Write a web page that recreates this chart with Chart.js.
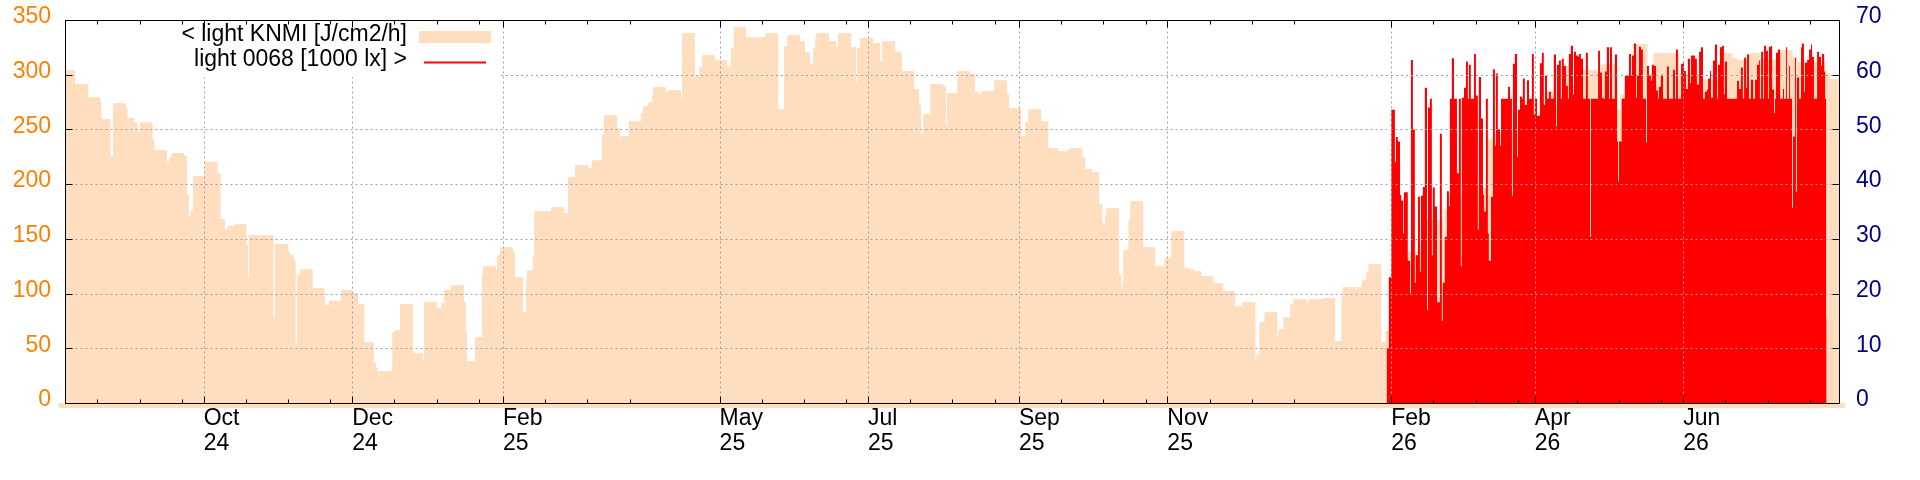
<!DOCTYPE html>
<html>
<head>
<meta charset="utf-8">
<title>light</title>
<script src="https://cdn.jsdelivr.net/npm/chart.js@4.4.1/dist/chart.umd.min.js"></script>
<style>
    html, body { margin: 0; padding: 0; background: #fff; }
    #wrap { width: 1920px; height: 480px; }
</style>
</head>
<body>
<div id="wrap"><canvas id="lightChart" width="1920" height="480"></canvas></div>
<script>
// x values are days counted from 2024-08-05
const tickDays = [57, 118, 180, 269, 330, 392, 453, 545, 604, 665];
const tickMonths = ['Oct', 'Dec', 'Feb', 'May', 'Jul', 'Sep', 'Nov', 'Feb', 'Apr', 'Jun'];
const tickYears = ['24', '24', '25', '25', '25', '25', '25', '26', '26', '26'];

// KNMI light, J/cm2/h (left axis) - each value holds until the next day
const peachDays = [
    -2.7, -2.3, -0.3, 3.9, 9.4, 14.4, 14.8, 18.5, 19.9, 24.8,
    25.5, 28.3, 29.6, 31.0, 35.8, 36.6, 41.7, 42.9, 43.9, 48.7,
    49.9, 50.7, 51.8, 52.8, 57.6, 62.5, 63.7, 65.5, 66.8, 69.6,
    74.4, 75.0, 75.8, 85.5, 86.4, 91.6, 92.4, 93.8, 94.6, 95.5,
    96.8, 101.6, 106.5, 108.7, 113.6, 117.9, 120.3, 122.8, 126.8, 127.6,
    128.3, 134.7, 135.4, 137.9, 142.8, 146.9, 147.7, 152.7, 154.7, 156.0,
    158.8, 163.8, 164.6, 165.0, 168.7, 171.6, 172.0, 176.9, 177.8, 179.0,
    183.9, 184.7, 188.0, 189.7, 190.1, 192.4, 193.0, 199.9, 204.9, 206.9,
    209.8, 214.8, 216.8, 220.9, 221.7, 226.7, 227.9, 228.7, 231.9, 236.9,
    237.8, 239.8, 241.5, 241.9, 246.8, 248.0, 253.0, 253.8, 258.7, 260.8,
    262.0, 267.0, 271.9, 273.8, 275.0, 279.7, 283.8, 284.2, 287.9, 292.9,
    295.7, 297.0, 301.9, 303.9, 306.0, 307.7, 308.5, 308.9, 313.8, 316.7,
    317.9, 322.9, 324.9, 325.7, 327.0, 331.8, 334.8, 335.6, 336.0, 341.0,
    343.7, 348.8, 350.8, 351.6, 352.9, 355.8, 360.7, 361.9, 362.7, 366.9,
    371.8, 373.8, 375.1, 376.7, 382.1, 387.0, 387.8, 392.6, 394.8, 396.0,
    401.0, 403.9, 408.0, 412.1, 412.9, 417.8, 419.1, 421.9, 424.8, 426.1,
    427.7, 428.1, 433.0, 433.9, 434.7, 435.1, 437.2, 438.0, 442.9, 447.8,
    452.0, 454.8, 459.8, 461.8, 463.9, 466.8, 471.7, 475.8, 480.7, 484.0,
    489.0, 489.8, 491.0, 493.1, 498.0, 498.8, 500.9, 503.7, 505.0, 510.0,
    511.1, 516.9, 521.8, 524.7, 525.1, 530.1, 530.9, 533.0, 535.0, 535.8,
    540.7, 542.8, 545.0, 549.0, 551.8, 556.0, 559.7, 566.2, 567.0, 568.7,
    575.0, 581.9, 584.7, 586.8, 592.0, 597.0, 604.0, 609.0, 611.8, 616.8,
    618.0, 623.8, 630.0, 631.2, 637.0, 637.8, 639.4, 641.0, 645.6, 650.1,
    653.0, 663.0, 672.0, 681.5, 685.0, 687.1, 691.2, 696.1, 704.8, 709.7,
    711.7, 723.3, 725.3, 729.7, 731.1, 731.5
];
const peachValues = [
    7, 298, 303.7, 290.9, 279, 274, 259, 226, 273.5, 270,
    260, 256, 247.6, 256, 240, 230.6, 220, 224, 228, 225.7,
    190, 169.7, 176.4, 206.8, 220, 209.6, 167.5, 158.7, 161.4, 163,
    144, 114, 153, 76.8, 145, 137.4, 134.6, 129.8, 53.3, 116.4,
    121.8, 104.5, 89, 93, 102.7, 100.2, 90.2, 55.1, 36.6, 32,
    28.6, 64.6, 66, 89.9, 45, 39, 92, 86.5, 90.8, 102.7,
    107.2, 91.7, 65.2, 37.8, 59.7, 117.9, 124.6, 121.2, 134.6, 141.9,
    137.4, 114.5, 82.9, 111.8, 120.9, 134.6, 174.8, 178.5, 173, 205.9,
    216.9, 214.1, 221.4, 245.2, 262.6, 250.7, 242.5, 243.4, 257, 264.4,
    270.8, 274.4, 280.8, 288.2, 283.6, 285.4, 277.2, 337.5, 298.5, 306.4,
    317.4, 312.8, 306.4, 323.8, 343, 333.8, 332.3, 333.8, 337.5, 268,
    325.6, 335.7, 330.2, 320.1, 309.2, 324.7, 333, 337.5, 330.2, 324.7,
    337.5, 324.7, 292.7, 323.8, 333, 328.4, 311.9, 295.5, 330.2, 320.1,
    302.8, 286.3, 272, 245.2, 263.5, 290.9, 289, 253.4, 282.7, 302.8,
    300, 283.6, 281.7, 284.5, 294.5, 281.7, 269, 243.4, 256.2, 268,
    257, 232.4, 229.7, 230.6, 232.4, 224.2, 213.2, 210.5, 181.2, 163.9,
    171.2, 177.6, 116.7, 103.6, 110.9, 139.2, 166.6, 184, 142, 124.6,
    131.9, 156.6, 122.8, 121.8, 120, 115.4, 109, 101.7, 88, 91.7,
    38.7, 44.2, 73.4, 82.5, 60.6, 67, 78, 89.9, 94.4, 91.1,
    94.4, 95.3, 56, 96.3, 105.4, 102.7, 105.4, 111.8, 119.1, 126.4,
    55.1, 65.2, 120, 130, 137.7, 145, 166.6, 115, 176.7, 190,
    200, 196, 240.6, 245, 250, 248, 244.6, 284.2, 270, 307.6,
    290, 303.7, 290, 309.2, 290, 267, 281.8, 290, 327.5, 300,
    319.2, 300, 295, 319.2, 314.6, 312.8, 319.2, 313.7, 322, 315.6,
    311, 301, 295.5, 284.5, 20, 0
];

// sensor 0068, 1000 lx (right axis)
const redDays = [
    543.1, 544.0, 545.0, 546.5, 546.9, 547.7, 548.6, 549.1, 549.9, 550.2,
    551.8, 552.7, 553.1, 553.9, 554.7, 555.1, 556.0, 556.8, 557.2, 558.0,
    558.8, 559.7, 560.1, 560.9, 561.7, 562.1, 562.9, 563.8, 565.0, 565.8,
    566.2, 567.0, 567.9, 568.7, 569.1, 569.9, 570.8, 572.0, 572.8, 573.6,
    574.0, 574.9, 575.7, 576.5, 576.9, 577.7, 579.0, 579.8, 580.6, 581.0,
    581.9, 582.7, 583.1, 583.9, 584.7, 585.1, 586.0, 586.8, 587.6, 588.0,
    588.8, 589.7, 590.1, 593.0, 593.8, 594.6, 595.0, 595.8, 596.7, 597.1,
    597.9, 598.7, 599.1, 599.9, 600.8, 601.6, 602.8, 603.6, 604.0, 604.9,
    606.1, 606.9, 607.7, 608.2, 609.0, 609.8, 610.6, 611.8, 612.7, 613.1,
    613.9, 614.7, 615.1, 615.9, 616.8, 617.6, 618.0, 618.8, 619.7, 620.1,
    620.9, 621.7, 622.1, 622.9, 623.8, 625.0, 625.8, 626.7, 627.1, 630.0,
    630.8, 631.6, 632.0, 632.8, 633.6, 634.5, 634.9, 635.7, 636.9, 637.8,
    638.2, 638.6, 639.7, 641.0, 642.7, 643.5, 643.9, 644.7, 645.6, 646.0,
    646.8, 647.6, 648.4, 649.7, 650.1, 650.9, 651.7, 652.1, 652.9, 653.8,
    654.6, 655.0, 655.8, 656.7, 658.3, 659.1, 660.8, 661.6, 662.0, 662.8,
    664.1, 664.9, 665.3, 666.1, 666.9, 667.8, 668.2, 669.8, 670.6, 671.5,
    672.3, 673.1, 673.9, 674.7, 675.2, 676.0, 676.4, 677.2, 678.0, 678.9,
    679.3, 680.1, 680.9, 681.7, 682.1, 683.0, 687.1, 687.9, 688.7, 689.5,
    690.0, 690.8, 691.2, 692.0, 692.8, 693.7, 694.5, 695.3, 696.1, 696.5,
    697.0, 697.8, 698.2, 699.0, 699.8, 700.2, 701.1, 701.5, 702.3, 702.7,
    703.1, 703.9, 704.8, 706.0, 706.4, 707.2, 707.6, 708.5, 708.9, 709.7,
    710.1, 710.9, 711.3, 711.7, 712.6, 713.4, 713.8, 714.6, 715.0, 715.9,
    716.7, 717.5, 717.9, 718.7, 720.0, 720.8, 721.6, 722.0, 722.9, 723.3,
    723.7, 723.9
];
const redValues = [
    10, 23, 53.6, 44, 48.6, 47.8, 38, 37, 31, 38.5,
    26, 20, 62.7, 50, 22, 27, 37.7, 24, 37.9, 39.5,
    57.6, 17, 54, 55.6, 27, 39.4, 35.9, 18.4, 49.2, 15,
    22, 30.4, 38.7, 36, 55.6, 63, 55.6, 42, 55.6, 25,
    55.8, 57.6, 62.4, 55.6, 61.8, 55.6, 63.8, 56.2, 31.7, 59.6,
    52, 38, 35, 55.6, 31, 26, 37.7, 61, 47, 60.2,
    50, 47, 55.6, 57.8, 55.6, 37.9, 62, 63.8, 45, 53.6,
    56, 55.6, 59.3, 54.5, 59, 55.6, 63.8, 52.7, 55.6, 52.5,
    62.1, 64, 54.5, 59.8, 55.6, 56.9, 55.6, 63.7, 50.5, 61.8,
    62.6, 55.6, 62.9, 61.6, 58, 55.6, 63.8, 65.3, 56.4, 64.2,
    63.5, 63.3, 63.8, 62.9, 55.6, 64, 55.6, 30.4, 55.6, 64.4,
    60.4, 55.8, 55.6, 60.6, 65, 55.6, 65, 55.6, 63.7, 47.8,
    40.5, 47.8, 55.6, 59.8, 63.8, 59.8, 63.5, 65.7, 55.8, 59.8,
    65.1, 64.6, 55.6, 47.6, 61.6, 59.8, 58.9, 61.8, 61.6, 57.1,
    55.6, 57.8, 60, 55.6, 61.5, 55.6, 60.9, 55.6, 64.6, 55.6,
    62, 62.4, 60.7, 57.4, 62.9, 58.5, 63.5, 62.9, 58.2, 64.2,
    65, 55.6, 56.9, 57.3, 59.3, 60.7, 55.8, 62.6, 65.5, 55.6,
    61.8, 65, 65.3, 56.4, 62.4, 55.6, 58.9, 57.4, 61.3, 55.6,
    63.1, 57.6, 63.7, 55.6, 59.1, 55.6, 59.1, 61.8, 62.6, 55.6,
    64.2, 55.6, 65.3, 64.4, 55.6, 65.1, 65.3, 57.3, 53, 55.6,
    64, 64.6, 55.6, 57.4, 55.6, 65, 55.6, 61.6, 55.6, 35.7,
    48.7, 63.1, 38.6, 59.5, 55.6, 65, 65.7, 56.9, 62.2, 62.7,
    64.6, 65.5, 63.3, 55.6, 64.2, 63.3, 61.6, 63.8, 60.6, 55.6,
    15.8, 0
];

const PEACH = '#ffdec0';
const RED = '#ff0000';
const FONT = '"Liberation Sans", Arial, sans-serif';

// key area in the top left corner: no grid is drawn under it
const KEY_W = 436, KEY_H = 57;

// fixed box sizes so the plot area lands where the original has it
function fixBox(w, h) {
    return scale => {
        if (w !== null) scale.width = w;
        if (h !== null) scale.height = h;
        scale.paddingTop = 0;
        scale.paddingBottom = 0;
        scale.paddingLeft = 0;
        scale.paddingRight = 0;
    };
}

// grid + tics + frame go on top of the data, like gnuplot does here
const frontGrid = {
    id: 'frontGrid',
    beforeDatasetsDraw(chart) {
        const { ctx, chartArea: a, scales: { x } } = chart;
        const x0 = x.getPixelForValue(peachDays[0]);
        const x1 = x.getPixelForValue(peachDays[peachDays.length - 1]);
        ctx.save();
        ctx.fillStyle = PEACH;
        ctx.fillRect(x0, a.bottom, x1 - x0, 5);
        ctx.restore();
    },
    afterDatasetsDraw(chart) {
        const { ctx, chartArea: a, scales: { x, y, y1 } } = chart;
        const keyR = a.left + KEY_W, keyB = a.top + KEY_H;
        const L = Math.round(a.left) + 0.5, R = Math.round(a.right) + 0.5;
        const T = Math.round(a.top) + 0.5, B = Math.round(a.bottom) + 0.5;

        ctx.save();
        ctx.lineWidth = 1;
        ctx.strokeStyle = '#a0a0a0';
        ctx.setLineDash([2, 3]);
        y.ticks.forEach(t => {
            if (t.value <= y.min || t.value >= y.max) return;
            const py = Math.round(y.getPixelForValue(t.value)) + 0.5;
            ctx.beginPath();
            ctx.moveTo(py < keyB ? keyR : L, py);
            ctx.lineTo(R, py);
            ctx.stroke();
        });
        x.ticks.forEach(t => {
            const px = Math.round(x.getPixelForValue(t.value)) + 0.5;
            ctx.beginPath();
            ctx.moveTo(px, B);
            ctx.lineTo(px, px < keyR ? keyB : T);
            ctx.stroke();
        });
        ctx.setLineDash([]);

        // tics pointing inward
        ctx.strokeStyle = '#000';
        ctx.beginPath();
        y.ticks.forEach(t => {
            const py = Math.round(y.getPixelForValue(t.value)) + 0.5;
            ctx.moveTo(L, py); ctx.lineTo(L + 7, py);
        });
        y1.ticks.forEach(t => {
            const py = Math.round(y1.getPixelForValue(t.value)) + 0.5;
            ctx.moveTo(R, py); ctx.lineTo(R - 7, py);
        });
        const majors = [-4].concat(tickDays);
        majors.forEach(m => {
            for (let k = 1; k <= 3; k++) {
                const d = m + k * 17.35;
                if (d <= x.min || d >= x.max) continue;
                const px = Math.round(x.getPixelForValue(d)) + 0.5;
                ctx.moveTo(px, B); ctx.lineTo(px, B - 4);
                ctx.moveTo(px, T); ctx.lineTo(px, T + 4);
            }
        });
        tickDays.forEach(d => {
            const px = Math.round(x.getPixelForValue(d)) + 0.5;
            ctx.moveTo(px, B); ctx.lineTo(px, B - 7);
            ctx.moveTo(px, T); ctx.lineTo(px, T + 7);
        });
        ctx.stroke();
        ctx.strokeRect(L, T, R - L, B - T);
        ctx.restore();
    }
};

const keyText = {
    id: 'keyText',
    afterDraw(chart) {
        const { ctx, chartArea: a } = chart;
        const sets = chart.data.datasets;
        ctx.save();
        ctx.font = '23px ' + FONT;
        ctx.textAlign = 'right';
        ctx.textBaseline = 'alphabetic';
        ctx.fillStyle = '#000';
        ctx.fillText(sets[0].label, a.left + 342, a.top + 20.5);
        ctx.fillText(sets[1].label, a.left + 342, a.top + 45.5);
        ctx.fillStyle = PEACH;
        ctx.fillRect(a.left + 354, a.top + 11, 72, 12);
        ctx.strokeStyle = RED;
        ctx.lineWidth = 2;
        ctx.beginPath();
        ctx.moveTo(a.left + 359, a.top + 42.5);
        ctx.lineTo(a.left + 421, a.top + 42.5);
        ctx.stroke();
        ctx.restore();
    }
};

const tickFont = { family: FONT, size: 23, lineHeight: 1.1 };

new Chart(document.getElementById('lightChart'), {
    type: 'line',
    data: {
        datasets: [{
            label: '< light KNMI [J/cm2/h]',
            data: peachDays.map((d, i) => ({ x: d, y: peachValues[i] })),
            yAxisID: 'y',
            stepped: true,   // value holds from its day until the next one
            fill: 'origin',
            backgroundColor: PEACH,
            borderColor: PEACH,
            borderWidth: 1,
            pointRadius: 0,
            order: 2
        }, {
            label: 'light 0068 [1000 lx] >',
            data: redDays.map((d, i) => ({ x: d, y: redValues[i] })),
            yAxisID: 'y1',
            stepped: true,
            fill: 'origin',
            backgroundColor: RED,
            borderColor: 'rgba(0,0,0,0)',
            borderWidth: 0,
            pointRadius: 0,
            order: 1
        }]
    },
    options: {
        responsive: false,
        animation: false,
        devicePixelRatio: 1,
        layout: { padding: { top: 20, left: 0, right: 0, bottom: 0 } },
        plugins: {
            legend: { display: false },
            tooltip: { enabled: false }
        },
        scales: {
            x: {
                type: 'linear',
                min: 0,
                max: 729,
                afterBuildTicks: scale => {
                    scale.ticks = tickDays.map(v => ({ value: v }));
                },
                afterFit: fixBox(null, 77),
                grid: { display: false, drawTicks: false },
                border: { display: false },
                ticks: {
                    autoSkip: false,
                    maxRotation: 0,
                    minRotation: 0,
                    align: 'start',
                    padding: 3,
                    color: '#000',
                    font: tickFont,
                    callback: value => {
                        const i = tickDays.indexOf(value);
                        return [tickMonths[i], tickYears[i]];
                    }
                }
            },
            y: {
                position: 'left',
                min: 0,
                max: 350,
                afterFit: fixBox(65, null),
                grid: { display: false, drawTicks: false },
                border: { display: false },
                ticks: { stepSize: 50, color: '#ff8000', padding: 14, labelOffset: -3, font: tickFont }
            },
            y1: {
                position: 'right',
                min: 0,
                max: 70,
                afterFit: fixBox(81, null),
                grid: { display: false, drawTicks: false },
                border: { display: false },
                ticks: { stepSize: 10, color: '#000080', padding: 17, labelOffset: -3, font: tickFont }
            }
        }
    },
    plugins: [frontGrid, keyText]
});
</script>
</body>
</html>
